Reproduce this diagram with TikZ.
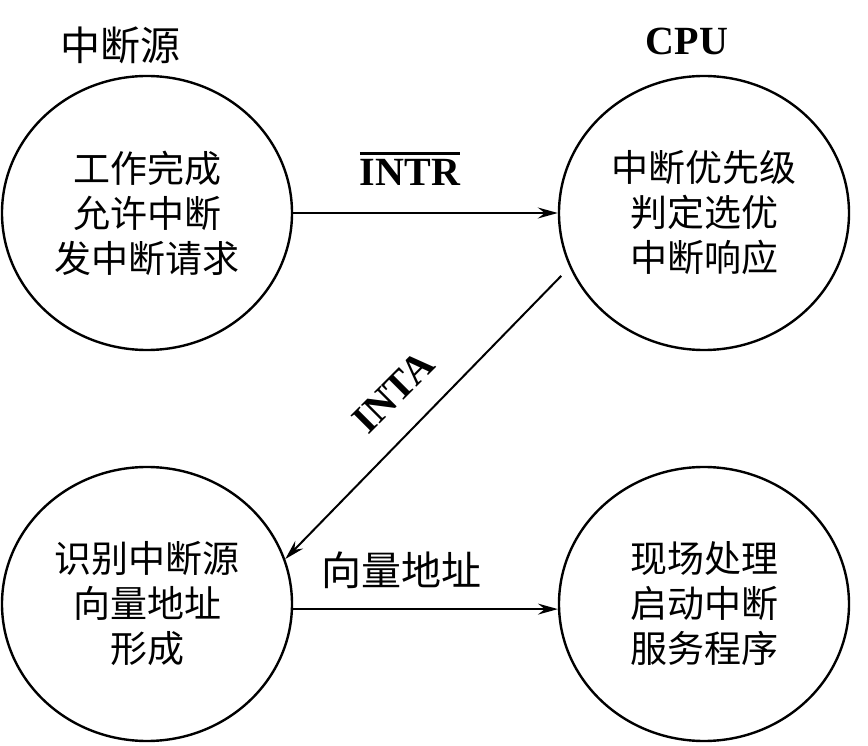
\documentclass[tikz,border=0pt]{standalone}
\usepackage{fontspec}
\setmainfont{Liberation Serif}
\newfontfamily\cjk{Noto Sans CJK SC}
\usetikzlibrary{positioning,shapes.geometric,arrows.meta}
\tikzstyle{stage}=[ellipse,draw=black,line width=2.4pt,minimum width=290pt,minimum height=274pt,inner sep=0pt,align=center,font=\cjk\fontsize{37}{45}\selectfont]
\tikzstyle{signal}=[draw=black,line width=2pt,-{Stealth[length=20pt,width=11pt,inset=7pt]}]
\tikzstyle{caption}=[inner sep=0pt,font=\cjk\fontsize{40}{48}\selectfont]
\tikzstyle{busname}=[inner sep=0pt,font=\bfseries\fontsize{40}{48}\selectfont]

\begin{document}
\begin{tikzpicture}[x=1pt,y=1pt]
  \useasboundingbox (0,0) rectangle (868,745);

  % the four stages
  \node[stage] (src) at (147,532) {工作完成\\允许中断\\发中断请求};
  \node[stage] (cpu) at (704,532) {中断优先级\\判定选优\\中断响应};
  \node[stage] (ident) at (147,141) {识别中断源\\向量地址\\形成};
  \node[stage] (serve) at (704,141) {现场处理\\启动中断\\服务程序};

  % headings
  \node[caption] (srctitle) at (120,700) {中断源};
  \node[busname] (cputitle) at (687,704) {CPU};

  % signals between the stages
  \path[signal] (src.east) -- (cpu.west);
  \path[signal,shorten <=12pt] (cpu.202) -- (ident.18);
  \path[signal] (ident.-2) -- (serve.182);

  \node[busname] (intr) at (410,576) {\vbox{\hrule height 2.6pt\kern 5pt\hbox{INTR}}};
  \node[busname,rotate=45] (inta) at (393,353) {INTA};
  \node[caption] (vecaddr) at (401,175) {向量地址};
\end{tikzpicture}
\end{document}
